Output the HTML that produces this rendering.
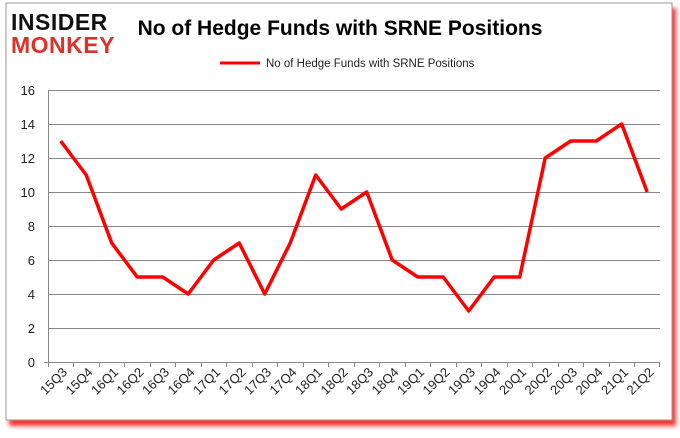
<!DOCTYPE html><html><head><style>body{margin:0;background:#fff}</style></head><body>
<svg width="680" height="433" xmlns="http://www.w3.org/2000/svg" font-family="Liberation Sans, sans-serif">
<defs><filter id="s" x="-5%" y="-5%" width="110%" height="115%"><feGaussianBlur stdDeviation="2"/></filter></defs>
<rect x="9" y="8" width="667" height="418" fill="#f33" filter="url(#s)"/>
<rect x="6" y="3" width="666" height="417" fill="#fff" stroke="#999"/>
<text x="11" y="30" font-size="23" font-weight="bold" fill="#111" letter-spacing="0.5">INSIDER</text>
<text x="11" y="53" font-size="23" font-weight="bold" fill="#d9342b" letter-spacing="0.5">MONKEY</text>
<text x="340" y="35" font-size="21" font-weight="bold" text-anchor="middle" fill="#000">No of Hedge Funds with SRNE Positions</text>
<line x1="220" y1="63" x2="260" y2="63" stroke="red" stroke-width="3"/>
<text x="266" y="67" font-size="11.5" fill="#222">No of Hedge Funds with SRNE Positions</text>
<g stroke="#888" stroke-width="1">
<line x1="48" y1="90.5" x2="660" y2="90.5"/><line x1="48" y1="124.5" x2="660" y2="124.5"/><line x1="48" y1="158.5" x2="660" y2="158.5"/><line x1="48" y1="192.5" x2="660" y2="192.5"/><line x1="48" y1="226.5" x2="660" y2="226.5"/><line x1="48" y1="260.5" x2="660" y2="260.5"/><line x1="48" y1="294.5" x2="660" y2="294.5"/><line x1="48" y1="328.5" x2="660" y2="328.5"/>
<line x1="48.5" y1="90" x2="48.5" y2="362"/><line x1="44" y1="362.5" x2="660" y2="362.5"/>
<path d="M48.5 362v5M73.5 362v5M99.5 362v5M124.5 362v5M150.5 362v5M175.5 362v5M201.5 362v5M226.5 362v5M252.5 362v5M277.5 362v5M303.5 362v5M328.5 362v5M354.5 362v5M379.5 362v5M405.5 362v5M430.5 362v5M456.5 362v5M481.5 362v5M507.5 362v5M532.5 362v5M558.5 362v5M583.5 362v5M609.5 362v5M634.5 362v5M659.5 362v5"/>
</g>
<g font-size="13" fill="#222" text-anchor="end">
<text x="35" y="95">16</text><text x="35" y="129">14</text><text x="35" y="163">12</text><text x="35" y="197">10</text><text x="35" y="231">8</text><text x="35" y="265">6</text><text x="35" y="299">4</text><text x="35" y="333">2</text><text x="35" y="367">0</text>
</g>
<polyline fill="none" stroke="red" stroke-width="3.5" stroke-linejoin="round" points="60.7,141 86.2,175 111.7,243 137.2,277 162.7,277 188.2,294 213.7,260 239.2,243 264.7,294 290.2,243 315.7,175 341.2,209 366.7,192 392.2,260 417.7,277 443.2,277 468.7,311 494.2,277 519.7,277 545.2,158 570.7,141 596.2,141 621.7,124 647.2,192"/>
<g font-size="13" fill="#222" text-anchor="end">
<text transform="translate(68,373) rotate(-45)">15Q3</text><text transform="translate(93.5,373) rotate(-45)">15Q4</text><text transform="translate(119,373) rotate(-45)">16Q1</text><text transform="translate(144.5,373) rotate(-45)">16Q2</text><text transform="translate(170,373) rotate(-45)">16Q3</text><text transform="translate(195.5,373) rotate(-45)">16Q4</text><text transform="translate(221,373) rotate(-45)">17Q1</text><text transform="translate(246.5,373) rotate(-45)">17Q2</text><text transform="translate(272,373) rotate(-45)">17Q3</text><text transform="translate(297.5,373) rotate(-45)">17Q4</text><text transform="translate(323,373) rotate(-45)">18Q1</text><text transform="translate(348.5,373) rotate(-45)">18Q2</text><text transform="translate(374,373) rotate(-45)">18Q3</text><text transform="translate(399.5,373) rotate(-45)">18Q4</text><text transform="translate(425,373) rotate(-45)">19Q1</text><text transform="translate(450.5,373) rotate(-45)">19Q2</text><text transform="translate(476,373) rotate(-45)">19Q3</text><text transform="translate(501.5,373) rotate(-45)">19Q4</text><text transform="translate(527,373) rotate(-45)">20Q1</text><text transform="translate(552.5,373) rotate(-45)">20Q2</text><text transform="translate(578,373) rotate(-45)">20Q3</text><text transform="translate(603.5,373) rotate(-45)">20Q4</text><text transform="translate(629,373) rotate(-45)">21Q1</text><text transform="translate(654.5,373) rotate(-45)">21Q2</text>
</g>
</svg></body></html>
